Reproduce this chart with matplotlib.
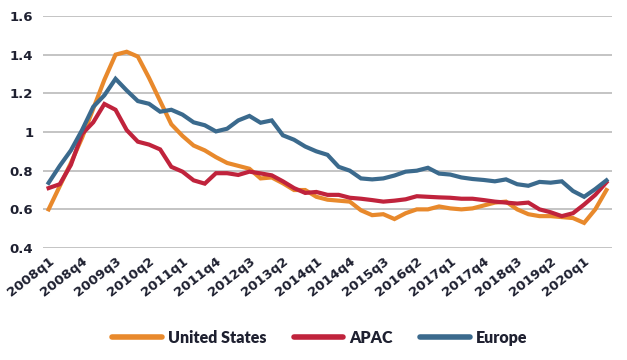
import matplotlib
matplotlib.use("Agg")
import matplotlib.pyplot as plt
from matplotlib.ticker import FuncFormatter

# quarterly labels 2008q1 .. 2020q3
quarters = [f"{y}q{q}" for y in range(2008, 2021) for q in range(1, 5)][:51]

us = [0.60, 0.72, 0.84, 0.97, 1.12, 1.27, 1.40, 1.415, 1.39, 1.28,
      1.16, 1.04, 0.98, 0.93, 0.905, 0.87, 0.84, 0.825, 0.81, 0.76,
      0.765, 0.735, 0.70, 0.70, 0.665, 0.65, 0.645, 0.64, 0.595, 0.57,
      0.575, 0.55, 0.58, 0.60, 0.60, 0.615, 0.605, 0.60, 0.605, 0.62,
      0.635, 0.64, 0.60, 0.575, 0.565, 0.565, 0.56, 0.555, 0.53, 0.60, 0.70]

apac = [0.71, 0.73, 0.83, 0.99, 1.05, 1.145, 1.115, 1.01, 0.95, 0.935,
        0.91, 0.82, 0.795, 0.75, 0.733, 0.787, 0.787, 0.778, 0.795, 0.786,
        0.776, 0.745, 0.71, 0.685, 0.69, 0.675, 0.675, 0.66, 0.655, 0.648,
        0.64, 0.645, 0.652, 0.668, 0.665, 0.662, 0.66, 0.655, 0.655, 0.648,
        0.64, 0.635, 0.63, 0.635, 0.60, 0.585, 0.565, 0.58, 0.625, 0.675, 0.74]

europe = [0.737, 0.825, 0.905, 1.01, 1.13, 1.19, 1.275, 1.215, 1.16, 1.146,
          1.105, 1.115, 1.09, 1.05, 1.035, 1.003, 1.017, 1.06, 1.083, 1.048,
          1.06, 0.983, 0.96, 0.925, 0.9, 0.882, 0.82, 0.80, 0.76, 0.755,
          0.76, 0.775, 0.795, 0.80, 0.815, 0.785, 0.78, 0.765, 0.757, 0.752,
          0.745, 0.755, 0.73, 0.722, 0.742, 0.738, 0.745, 0.695, 0.665, 0.705, 0.75]

series = [("United States", us, "#E8892C"),
          ("APAC", apac, "#C0233C"),
          ("Europe", europe, "#3B6A8D")]

text_color = "#1e2030"
plt.rcParams["font.family"] = ["Lato", "DejaVu Sans"]

fig = plt.figure(figsize=(6.27, 3.6), dpi=100)
ax = fig.add_axes([0.0686, 0.311, 0.9075, 0.6446])

x = list(range(len(quarters)))
for name, vals, color in series:
    ax.plot(x, vals, color=color, lw=3.0, label=name, solid_joinstyle="miter")

ax.set_xlim(-0.5, len(quarters) - 0.5)
ax.set_ylim(0.4, 1.6)
ax.set_yticks([0.4, 0.6, 0.8, 1.0, 1.2, 1.4, 1.6])
ax.yaxis.set_major_formatter(FuncFormatter(lambda v, p: f"{v:g}"))
ax.set_xticks(x[::3])
ax.set_xticklabels(quarters[::3], rotation=38, ha="right", rotation_mode="anchor")

ax.grid(axis="y", color="#c4c4c4", lw=1.4)
ax.set_axisbelow(True)
for s in ax.spines.values():
    s.set_visible(False)
ax.tick_params(axis="both", length=0, colors=text_color, labelsize=9.5)
ax.tick_params(axis="y", pad=7)
ax.tick_params(axis="x", pad=5)
for lab in ax.get_xticklabels() + ax.get_yticklabels():
    lab.set_family("DejaVu Sans")
    lab.set_fontweight("bold")

leg = fig.legend(loc="center", bbox_to_anchor=(0.51, 0.062), ncol=3, frameon=False,
                 handlelength=3.1, handletextpad=0.4, columnspacing=1.7,
                 prop={"weight": "heavy", "size": 11.5})
for t in leg.get_texts():
    t.set_color(text_color)
for h in leg.get_lines():
    h.set_linewidth(4)
    h.set_solid_capstyle("round")

fig.savefig("out.png", dpi=100)
